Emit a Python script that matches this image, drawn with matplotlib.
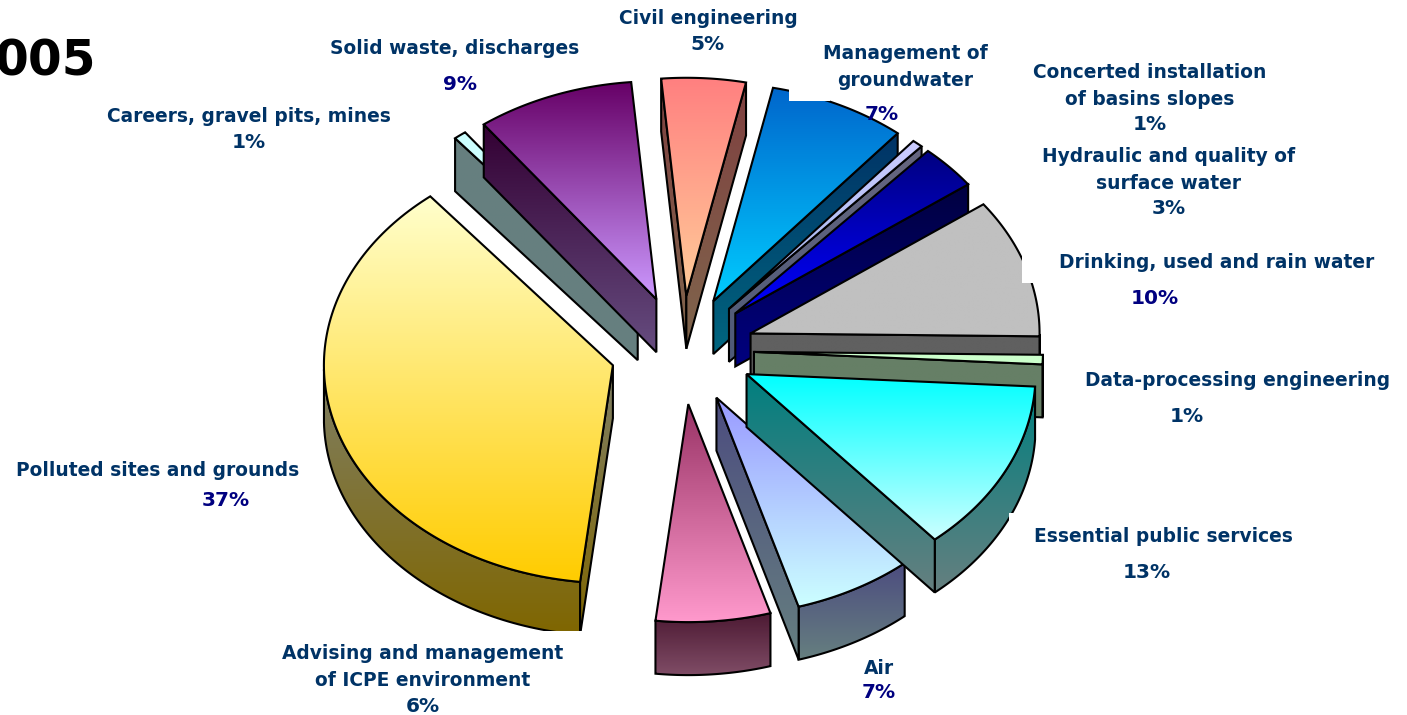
import matplotlib

matplotlib.use("Agg")

import matplotlib.pyplot as plt
import numpy as np
from matplotlib.colors import to_rgb
from matplotlib.patches import PathPatch, Rectangle
from matplotlib.path import Path

# clockwise from the top of the pie
categories = [
    "Civil engineering", "Management of\ngroundwater",
    "Concerted installation\nof basins slopes",
    "Hydraulic and quality of\nsurface water",
    "Drinking, used and rain water", "Data-processing engineering",
    "Essential public services", "Air",
    "Advising and management\nof ICPE environment",
    "Polluted sites and grounds", "Careers, gravel pits, mines",
    "Solid waste, discharges",
]
# printed percentages
values = [5, 7, 1, 3, 10, 1, 13, 7, 6, 37, 1, 9]
# share of the circle as measured on the slices, the printed ones are rounded
shares = [4.7, 7.7, 0.6, 3.3, 10.3, 0.7, 12.8, 6.7, 6.4, 37.3, 0.7, 8.8]

face_top = ["#ff8080", "#0066cc", "#ccccff", "#000080", "#c0c0c0", "#ccffcc",
            "#00ffff", "#9999ff", "#993366", "#ffffcc", "#ccffff", "#660066"]
face_bottom = ["#ffcc99", "#00ccff", "#9db4ee", "#0000ff", "#c0c0c0", "#ccffcc",
               "#ccffff", "#ccffff", "#ff99cc", "#ffcc00", "#ccffff", "#cc99ff"]

# centre of each label block and of its percentage, in picture pixels
label_x = [708, 905, 1150, 1169, 1217, 1238, 1163, 879, 423, 158, 249, 455]
label_y = [18, 67, 86, 170, 262, 381, 537, 668, 667, 470, 117, 49]
pct_x = [708, 882, 1150, 1169, 1155, 1187, 1147, 879, 423, 226, 249, 460]
pct_y = [44, 114, 124, 209, 298, 416, 573, 693, 706, 501, 143, 84]
pct_color = ["#003366", "#000080", "#003366", "#003366", "#000080", "#003366",
             "#003366", "#000080", "#003366", "#000080", "#003366", "#000080"]

# painter's order, indexes into categories
draw_order = [9, 10, 11, 0, 1, 2, 3, 4, 5, 8, 7, 6]

WIDTH, HEIGHT = 1407, 715
CX, CY = 682, 350
RX, RY = 289, 218
DEPTH = 53
EXPLODE = 72
START = 95

fig = plt.figure(figsize=(WIDTH / 100, HEIGHT / 100), dpi=100)
ax = fig.add_axes([0, 0, 1, 1])
ax.set_xlim(0, WIDTH)
ax.set_ylim(HEIGHT, 0)
ax.axis("off")

z = [2]


def gradient_poly(points, top, bottom, closed_lw=1.5):
    points = np.asarray(points)
    y0, y1 = points[:, 1].min(), points[:, 1].max()
    x0, x1 = points[:, 0].min(), points[:, 0].max()
    t = np.linspace(0, 1, 128)[:, None]
    grad = (1 - t) * np.array(to_rgb(top)) + t * np.array(to_rgb(bottom))
    codes = [Path.MOVETO] + [Path.LINETO] * (len(points) - 1) + [Path.CLOSEPOLY]
    path = Path(np.vstack([points, points[0]]), codes)
    z[0] += 1
    outline = PathPatch(path, fc="none", ec="black", lw=closed_lw, zorder=z[0] + 0.5,
                        joinstyle="miter")
    ax.add_patch(outline)
    img = ax.imshow(grad[:, None, :], extent=(x0, x1, y1, y0), aspect="auto",
                    interpolation="bilinear", zorder=z[0])
    img.set_clip_path(path, ax.transData)


def half(color):
    return tuple(c * 0.5 for c in to_rgb(color))


def draw_slice(a1, a2, top, bottom):
    # a1 > a2, clockwise sweep in degrees
    mid = np.radians((a1 + a2) / 2)
    tx = CX + EXPLODE * np.cos(mid)
    ty = CY - EXPLODE * RY / RX * np.sin(mid)
    theta = np.radians(np.linspace(a1, a2, 120))
    arc = np.column_stack([tx + RX * np.cos(theta), ty - RY * np.sin(theta)])
    tip = np.array([tx, ty])
    drop = np.array([0, DEPTH])

    # only the walls that face the viewer
    front = arc[np.sin(theta) < 0]
    if len(front) > 1:
        rim = np.vstack([front, (front + drop)[::-1]])
        gradient_poly(rim, half(top), half(bottom))
    if np.cos(theta[0]) < 0:
        end = arc[0]
        gradient_poly([tip, end, end + drop, tip + drop], half(top), half(bottom))
    if np.cos(theta[-1]) > 0:
        end = arc[-1]
        gradient_poly([tip, end, end + drop, tip + drop], half(top), half(bottom))
    gradient_poly(np.vstack([tip, arc]), top, bottom)


angles = START - np.concatenate([[0], np.cumsum(shares)]) * 3.6
for i in draw_order:
    draw_slice(angles[i], angles[i + 1], face_top[i], face_bottom[i])

# white label boxes that bite into the pie
for x, y, w, h in [(789, 88, 41, 13), (1022, 253, 60, 30), (1009, 513, 60, 40),
                   (270, 631, 370, 84)]:
    ax.add_patch(Rectangle((x, y), w, h, fc="white", ec="none", zorder=500))

for name, lx, ly, val, px, py, col in zip(categories, label_x, label_y, values,
                                          pct_x, pct_y, pct_color):
    ax.text(lx, ly, name, color="#003366", ha="center", va="center", family="DejaVu Sans",
            weight="bold", fontsize=13.45, linespacing=1.5, zorder=600)
    ax.text(px, py, f"{val}%", color=col, ha="center", va="center", family="DejaVu Sans",
            weight="bold", fontsize=14.5, zorder=600)

ax.text(96, 62, "005", color="black", ha="right", va="center", family="DejaVu Sans",
        weight="bold", fontsize=35, zorder=600)

ax.set_xlim(0, WIDTH)
ax.set_ylim(HEIGHT, 0)
fig.savefig("out.png", dpi=100, facecolor="white")
